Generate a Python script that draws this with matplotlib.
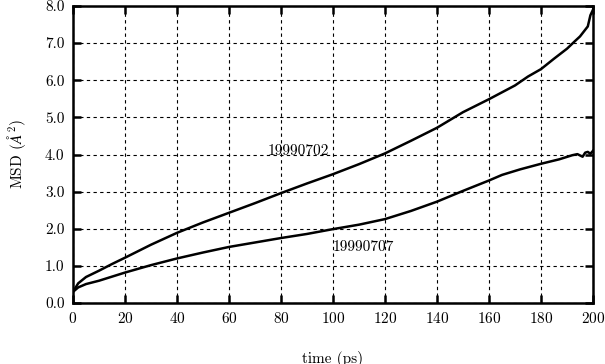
import matplotlib
matplotlib.use("Agg")
import matplotlib.pyplot as plt
from matplotlib.ticker import FormatStrFormatter

plt.rcParams['font.family'] = 'cmr10'
plt.rcParams['mathtext.fontset'] = 'cm'
plt.rcParams['axes.formatter.use_mathtext'] = True

# MSD curves
t_702 = [0, 2, 5, 10, 15, 20, 30, 40, 50, 60, 70, 80, 90, 100, 110, 120, 130,
         140, 150, 160, 170, 175, 180, 185, 190, 193, 195, 197, 198, 199, 200]
msd_702 = [0.30, 0.53, 0.70, 0.87, 1.05, 1.22, 1.57, 1.89, 2.17, 2.43, 2.69, 2.96,
           3.22, 3.47, 3.74, 4.03, 4.37, 4.72, 5.14, 5.49, 5.86, 6.10, 6.30, 6.58,
           6.85, 7.05, 7.18, 7.36, 7.45, 7.75, 7.90]

t_707 = [0, 2, 5, 10, 20, 30, 40, 50, 60, 70, 80, 90, 100, 110, 120, 130, 140,
         150, 160, 165, 172, 180, 187, 192, 194, 196, 197, 198, 199, 200]
msd_707 = [0.30, 0.42, 0.51, 0.60, 0.82, 1.02, 1.20, 1.36, 1.51, 1.63, 1.75, 1.86,
           1.99, 2.11, 2.26, 2.48, 2.73, 3.02, 3.30, 3.45, 3.60, 3.75, 3.87, 3.98,
           4.01, 3.94, 4.05, 4.07, 4.02, 4.10]

x_ticks = list(range(0, 201, 20))
y_ticks = [0, 1, 2, 3, 4, 5, 6, 7, 8]

fig = plt.figure(figsize=(6.05, 3.64), dpi=100)
W, H = 605, 364
ax = fig.add_axes([73 / W, 1 - 303 / H, (593 - 73) / W, (303 - 6) / H])

ax.plot(t_702, msd_702, color='black', lw=1.8)
ax.plot(t_707, msd_707, color='black', lw=1.8)

ax.text(75, 4.1, '19990702', fontsize=11, ha='left', va='center')
ax.text(100, 1.5, '19990707', fontsize=11, ha='left', va='center')

ax.set_xlim(0, 200)
ax.set_ylim(0, 8)
ax.set_xticks(x_ticks)
ax.set_yticks(y_ticks)
ax.yaxis.set_major_formatter(FormatStrFormatter('%.1f'))
ax.tick_params(direction='in', length=6, width=1.8, top=True, right=True,
               labelsize=11, pad=6)
ax.grid(True, color='black', linestyle=(0, (3, 3)), linewidth=0.8)
for s in ax.spines.values():
    s.set_linewidth(1.8)

ax.set_ylabel(r'MSD ($\AA^2$)', fontsize=11, labelpad=12)
fig.text((73 + 593) / 2 / W, 1 - 351 / H, 'time (ps)', fontsize=11,
         ha='center', va='top')

fig.savefig('out.png', dpi=100)
